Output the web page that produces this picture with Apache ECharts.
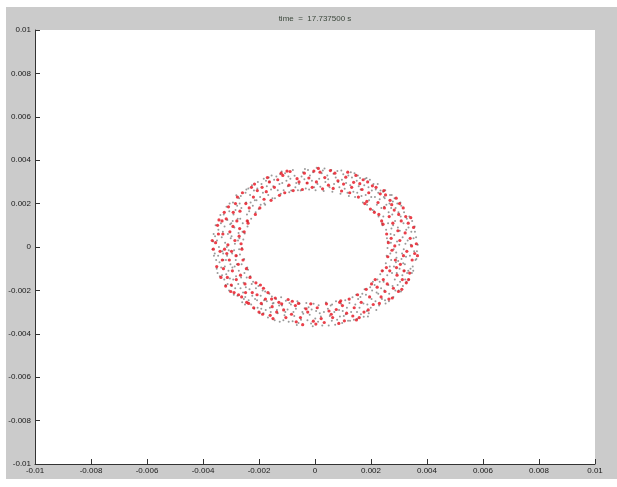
<!DOCTYPE html>
<html><head><meta charset="utf-8">
<script src="https://cdn.jsdelivr.net/npm/echarts@6/dist/echarts.min.js"></script>
<style>
html,body{margin:0;padding:0;background:#fff;}
#bg{position:absolute;left:6px;top:7px;width:611px;height:472px;background:#cbcbcb;}
#chart{position:absolute;left:0;top:0;width:617px;height:487px;}
</style></head>
<body><div id="bg"></div><div id="chart"></div>
<script>
// values in units of 1e-5
const UNIT = 1e-5;
const titleText = 'time  =  17.737500 s';
const axisTicks = [-0.01,-0.008,-0.006,-0.004,-0.002,0,0.002,0.004,0.006,0.008,0.01];

const redPts = [
[5,300],[18,345],[27,268],[12,362],[8,-280],[22,-330],[3,-355],
[35,320],[48,285],[55,352],[41,-262],[58,-310],[33,-348],[50,-295],
[65,270],[82,305],[71,340],[88,-255],[63,-325],[76,-288],[85,-352],
[95,258],[110,322],[102,290],[117,345],[98,-270],[113,-305],[105,-340],[92,-248],
[124,250],[138,298],[146,330],[131,275],[122,-240],[140,-280],[135,-318],[148,-336],
[155,230],[168,265],[172,310],[160,292],[178,200],[152,-220],[165,-255],[175,-300],[158,-325],
[185,210],[192,250],[205,282],[198,175],[188,300],[183,-195],[195,-230],[208,-265],[190,-290],[202,-170],
[212,160],[225,205],[233,245],[218,275],[238,120],[228,150],[215,-150],[222,-185],[236,-230],[230,-260],[240,-110],
[243,105],[248,180],[252,240],[256,60],[262,20],[265,140],[268,215],[246,260],[260,-45],[255,-95],[244,-150],[250,-205],[264,-240],[258,-170],[267,-110],
[272,40],[278,110],[283,170],[290,225],[296,75],[275,-15],[287,-60],[293,-130],[280,-190],[298,-205],[285,5],[274,195],[299,150],[276,-235],[291,-95],
[303,30],[308,120],[315,180],[322,65],[328,-20],[305,-80],[312,-150],[318,-110],[326,-165],[302,200],[310,-195],[324,140],[316,-40],
[333,110],[340,40],[347,-60],[352,90],[338,-120],[345,5],[356,-30],[334,-150],[342,135],
[362,15],[366,-40],
[-10,275],[-22,318],[-4,350],[-28,295],[-15,-262],[-26,-300],[-6,-342],
[-38,340],[-45,265],[-57,300],[-32,-285],[-52,-325],[-44,-358],[-59,-260],
[-64,315],[-78,260],[-89,348],[-70,-270],[-84,-310],[-67,-345],[-81,-250],
[-93,285],[-108,250],[-115,330],[-100,350],[-96,-242],[-112,-290],[-104,-325],[-119,-262],
[-127,238],[-133,310],[-145,275],[-121,340],[-129,-255],[-142,-235],[-137,-300],[-150,-330],
[-157,215],[-163,300],[-174,255],[-170,320],[-153,-275],[-168,-210],[-160,-315],[-177,-240],[-155,-240],
[-182,220],[-189,275],[-197,180],[-206,260],[-184,-190],[-192,-260],[-200,-300],[-207,-220],[-187,-310],[-195,-175],
[-213,150],[-220,230],[-227,275],[-235,180],[-239,110],[-216,290],[-211,-165],[-224,-210],[-232,-140],[-237,-260],[-219,-280],
[-242,120],[-247,200],[-253,70],[-259,250],[-264,15],[-268,165],[-245,-100],[-250,-170],[-257,-60],[-262,-230],[-266,-130],[-244,-255],[-261,-10],[-269,85],[-248,-210],
[-271,50],[-279,120],[-284,200],[-292,160],[-298,-20],[-274,-80],[-281,-150],[-289,-210],[-295,-110],[-277,230],[-286,30],[-293,95],[-273,-220],[-299,-175],[-282,-40],
[-304,70],[-309,185],[-317,130],[-323,-10],[-329,60],[-306,-60],[-313,-140],[-319,-180],[-327,-100],[-301,-205],[-311,10],[-324,160],[-315,-30],
[-332,120],[-339,-20],[-345,60],[-351,-90],[-336,-140],[-343,125],[-355,20],[-331,-60],[-348,100],
[-363,-10],[-367,30]
];

const grayPts = [
[2,262],[9,290],[15,315],[24,340],[6,365],[19,278],[28,352],[13,-268],[4,-295],[21,-320],[11,-345],[26,-362],[17,-305],[1,-330],
[31,258],[37,300],[44,330],[52,275],[58,355],[47,312],[34,362],[39,-256],[46,-285],[53,-318],[60,-340],[32,-300],[49,-362],[56,-270],
[62,255],[68,290],[74,320],[80,350],[87,275],[66,338],[83,300],[61,-265],[69,-300],[75,-250],[79,-335],[86,-290],[72,-358],[89,-320],
[91,245],[96,310],[101,335],[106,268],[111,295],[116,250],[119,330],[94,352],[93,-262],[99,-295],[103,-318],[108,-245],[114,-280],[118,-340],[97,-350],[110,-310],
[121,235],[126,285],[132,320],[137,255],[143,230],[149,305],[128,345],[141,340],[123,-258],[129,-300],[134,-232],[139,-335],[144,-265],[150,-300],[125,-340],[147,-220],
[151,250],[156,280],[161,318],[166,235],[171,205],[176,285],[153,330],[163,265],[179,315],[154,-240],[159,-280],[164,-310],[169,-215],[173,-260],[177,-195],[151,-332],[162,-230],[174,-322],
[181,240],[186,195],[191,275],[196,310],[201,230],[206,170],[184,318],[193,215],[203,260],[209,290],[182,-220],[187,-265],[192,-305],[197,-185],[202,-240],[207,-160],[185,-295],[199,-280],[204,-200],[189,-320],
[211,165],[214,230],[217,265],[221,195],[224,290],[227,140],[231,220],[234,260],[237,180],[239,110],[226,250],[213,-175],[216,-250],[219,-290],[223,-150],[226,-215],[229,-270],[233,-125],[236,-190],[239,-240],[220,-210],[231,-160],
[241,100],[244,140],[247,185],[249,225],[251,262],[254,80],[257,40],[259,-5],[261,110],[263,160],[266,200],[268,240],[270,60],[242,-110],[245,-160],[248,-200],[250,-245],[253,-75],[256,-40],[258,-130],[262,-175],[265,-215],[267,-90],[269,-30],[246,230],[252,-260],[260,25],[264,-250],[243,255],[255,195],
[271,20],[273,85],[276,150],[278,210],[281,-10],[283,55],[286,120],[288,180],[291,-50],[293,25],[296,90],[298,160],[272,-60],[275,-120],[277,-180],[280,-230],[282,-90],[285,-150],[287,-200],[290,-25],[292,-120],[295,-175],[297,-65],[299,-200],[274,240],[284,225],[279,100],[289,-70],[294,200],[272,180],
[301,10],[303,75],[306,140],[308,190],[311,-30],[313,45],[316,110],[318,160],[321,-80],[323,15],[326,80],[328,130],[302,-100],[304,-160],[307,-205],[309,-55],[312,-130],[314,-180],[317,-10],[319,-110],[322,-150],[325,-45],[329,-120],[305,205],[315,-75],[327,-160],
[331,30],[334,90],[337,140],[339,-40],[342,10],[344,70],[347,120],[349,-90],[352,40],[354,-20],[357,70],[359,-60],[333,-110],[336,-150],[341,-100],[346,-120],[351,-110],[356,95],
[361,45],[364,-20],[367,10],[362,-55],
[-3,275],[-11,305],[-18,330],[-25,355],[-7,345],[-21,265],[-29,295],[-5,-262],[-12,-288],[-19,-312],[-27,-338],[-8,-365],[-23,-278],[-14,-352],
[-33,270],[-38,312],[-43,345],[-51,260],[-57,290],[-48,325],[-36,360],[-31,-258],[-37,-282],[-42,-308],[-50,-335],[-55,-260],[-59,-350],[-45,-300],
[-61,262],[-67,295],[-73,328],[-79,355],[-85,260],[-70,275],[-88,315],[-63,-250],[-68,-285],[-74,-318],[-80,-342],[-86,-265],[-65,-360],[-77,-300],
[-92,252],[-97,280],[-102,305],[-107,340],[-112,262],[-117,295],[-95,325],[-119,348],[-91,-258],[-98,-288],[-104,-248],[-109,-315],[-113,-338],[-118,-270],[-94,-345],[-106,-300],
[-122,245],[-127,290],[-133,262],[-138,325],[-143,225],[-149,280],[-124,335],[-146,310],[-121,-232],[-128,-270],[-133,-305],[-139,-240],[-144,-338],[-148,-258],[-126,-345],[-136,-290],
[-152,225],[-157,265],[-162,300],[-167,240],[-172,280],[-178,195],[-155,330],[-165,320],[-175,305],[-151,-260],[-158,-300],[-163,-215],[-168,-325],[-172,-250],[-178,-205],[-154,-228],[-161,-280],[-176,-290],
[-181,200],[-186,250],[-191,290],[-196,230],[-201,175],[-206,270],[-183,315],[-194,195],[-204,300],[-209,215],[-182,-245],[-187,-200],[-192,-285],[-197,-305],[-202,-180],[-207,-245],[-184,-305],[-194,-225],[-205,-280],[-189,-265],
[-212,160],[-215,215],[-218,260],[-222,190],[-225,285],[-228,130],[-232,240],[-235,165],[-238,270],[-240,120],[-230,205],[-211,-190],[-214,-240],[-217,-285],[-221,-160],[-224,-225],[-228,-265],[-231,-135],[-234,-195],[-237,-245],[-239,-105],[-226,-170],
[-241,95],[-243,150],[-246,205],[-248,250],[-251,62],[-253,-55],[-256,35],[-258,110],[-261,-5],[-263,180],[-265,235],[-267,130],[-270,40],[-242,-95],[-244,-140],[-247,-185],[-249,-230],[-252,-120],[-255,-165],[-257,-210],[-260,-255],[-262,-80],[-264,-140],[-266,-190],[-268,-35],[-245,265],[-250,-265],[-259,70],[-254,-240],[-269,200],
[-271,-10],[-273,65],[-276,130],[-278,190],[-281,238],[-283,-60],[-286,15],[-288,90],[-291,150],[-293,205],[-296,-30],[-298,50],[-272,-110],[-274,-170],[-277,-225],[-280,-40],[-282,-135],[-285,-190],[-287,-90],[-290,-220],[-292,-150],[-295,-95],[-297,-180],[-299,110],[-275,30],[-284,170],[-279,-80],[-289,-15],[-294,120],[-271,225],
[-301,40],[-303,105],[-306,165],[-308,-15],[-311,60],[-313,125],[-316,185],[-318,-60],[-321,20],[-323,95],[-326,150],[-328,-30],[-302,-80],[-304,-145],[-307,-200],[-309,-110],[-312,-170],[-314,-40],[-317,-125],[-319,-175],[-322,-90],[-324,-150],[-327,-60],[-329,70],[-305,200],[-315,0],
[-331,-20],[-333,45],[-336,110],[-338,148],[-341,-70],[-343,0],[-345,80],[-348,-120],[-350,30],[-353,-60],[-355,100],[-358,-30],[-332,-130],[-335,-95],[-340,-135],[-346,-40],[-351,-100],[-357,50],
[-361,-40],[-364,25],[-366,-10],[-362,60]
];

const toData = pts => pts.map(p => [p[0]*UNIT, p[1]*UNIT]);
const fmt = v => String(Number(v.toFixed(4)));
const FONT = '"Liberation Sans", Arial, sans-serif';

const axisCommon = {
  type: 'value', min: axisTicks[0], max: axisTicks[axisTicks.length-1], interval: 0.002,
  axisLine: { show: true, onZero: false, lineStyle: { color: '#333', width: 1 } },
  axisTick: { show: true, inside: true, length: 5, lineStyle: { color: '#333', width: 1 } },
  axisLabel: { fontSize: 8, color: '#1a1a1a', fontFamily: FONT, formatter: fmt },
  splitLine: { show: false }
};

const chart = echarts.init(document.getElementById('chart'), null, { renderer: 'canvas' });
chart.setOption({
  animation: false,
  backgroundColor: 'transparent',
  grid: { left: 35, right: 22, top: 30, bottom: 23, show: true, backgroundColor: '#ffffff', borderWidth: 0 },
  xAxis: Object.assign({}, axisCommon, { axisLabel: Object.assign({}, axisCommon.axisLabel, { margin: 3 }) }),
  yAxis: Object.assign({}, axisCommon, { axisLabel: Object.assign({}, axisCommon.axisLabel, { margin: 4 }) }),
  graphic: [{
    type: 'text', x: 315, y: 19, silent: true,
    style: { text: titleText, fontSize: 8, fontFamily: FONT, fill: '#3a463a', align: 'center', verticalAlign: 'middle' }
  }],
  series: [
    { type: 'scatter', data: toData(grayPts), symbol: 'circle', symbolSize: 2,
      itemStyle: { color: '#808080' }, silent: true },
    { type: 'scatter', data: toData(redPts), symbol: 'circle', symbolSize: 3.2,
      itemStyle: { color: '#e5101d' }, silent: true }
  ]
});
</script></body></html>
